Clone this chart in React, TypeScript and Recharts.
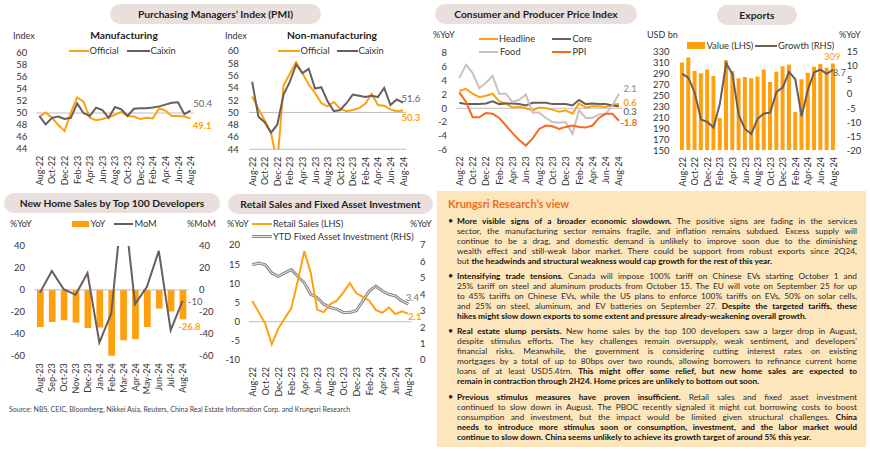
import React from 'react';
import { ComposedChart, Line, Bar, XAxis, YAxis, ReferenceLine, LabelList } from 'recharts';

// ---------------- DATA ----------------
const MONTHS = ['Aug-22','Sep-22','Oct-22','Nov-22','Dec-22','Jan-23','Feb-23','Mar-23','Apr-23','May-23','Jun-23','Jul-23','Aug-23','Sep-23','Oct-23','Nov-23','Dec-23','Jan-24','Feb-24','Mar-24','Apr-24','May-24','Jun-24','Jul-24','Aug-24'];
const MONTHS_HOME = ['Aug-23','Sep-23','Oct-23','Nov-23','Dec-23','Jan-24','Feb-24','Mar-24','Apr-24','May-24','Jun-24','Jul-24','Aug-24'];
const EVEN_TICKS = [0,2,4,6,8,10,12,14,16,18,20,22,24];

const PMI_MFG_OFFICIAL = [49.4,50.1,49.2,48.0,47.0,50.1,52.6,51.9,49.2,48.8,49.0,49.3,49.7,50.2,49.5,49.4,49.0,49.2,49.1,50.8,50.4,49.5,49.5,49.4,49.1];
const PMI_MFG_CAIXIN = [49.5,48.1,49.2,49.4,49.0,49.2,51.6,50.0,49.5,50.9,50.5,49.2,51.0,50.6,49.5,50.7,50.8,50.8,50.9,51.1,51.4,51.7,51.8,49.8,50.4];
const PMI_NON_OFFICIAL = [52.6,50.6,48.7,46.7,41.6,54.4,56.3,58.2,56.4,54.5,53.2,51.5,51.0,51.7,50.6,50.2,50.4,50.7,51.4,53.0,51.2,51.1,50.5,50.2,50.3];
const PMI_NON_CAIXIN = [55.0,49.3,48.4,46.7,48.0,52.9,55.0,57.8,56.4,57.1,53.9,54.1,51.8,50.2,50.4,51.5,52.9,52.7,52.5,52.7,52.5,54.0,51.2,52.1,51.6];
const PMI_TICKS = [44,46,48,50,52,54,56,58,60];

const CPI_HEADLINE = [2.5,2.8,2.1,1.6,1.8,2.1,1.0,0.7,0.1,0.2,0.0,-0.3,0.1,0.0,-0.2,-0.5,-0.3,-0.8,0.7,0.1,0.3,0.3,0.2,0.5,0.6];
const CPI_CORE = [0.8,0.6,0.6,0.6,0.7,1.0,0.6,0.7,0.7,0.6,0.4,0.8,0.8,0.8,0.6,0.6,0.6,0.4,1.2,0.6,0.7,0.6,0.6,0.4,0.3];
const CPI_FOOD = [4.4,6.3,5.1,2.9,3.7,4.7,2.1,2.1,0.9,1.2,2.0,-0.6,-0.6,-1.4,-2.0,-2.1,-2.0,-3.7,-0.3,-1.4,-1.4,-0.9,-0.8,0.4,2.1];
const PPI = [2.3,0.9,-1.3,-1.3,-0.7,-0.8,-1.4,-2.5,-3.6,-4.6,-5.4,-4.4,-3.0,-2.5,-2.6,-3.0,-2.7,-2.5,-2.7,-2.8,-2.5,-1.4,-0.8,-0.8,-1.8];
const CPI_TICKS = [-6,-4,-2,0,2,4,6,8];

const EXPORT_VALUE = [311,320,295,291,298,286,209,315,295,282,284,282,285,298,275,294,304,307,220,280,292,303,308,301,309];
const EXPORT_GROWTH = [7.3,5.8,0.5,-9.0,-9.9,-11.9,-3.4,11.0,7.1,-7.5,-12.4,-14.2,-8.8,-6.9,-6.6,0.8,2.3,7.9,5.3,-7.9,1.6,7.8,8.7,7.2,8.7];
const EXPORT_LTICKS = [150,170,190,210,230,250,270,290,310,330];
const EXPORT_RTICKS = [-20,-15,-10,-5,0,5,10,15];

const HOME_YOY = [-33.9,-29.2,-27.6,-29.8,-34.8,-34.2,-60.2,-45.9,-44.7,-33.8,-16.9,-19.8,-26.8];
const HOME_MOM = [-2.5,17.3,0.6,-4.5,15.3,-48.0,-21.5,86.0,-13.0,2.7,35.6,-36.8,-10.0];
const HOME_TICKS = [-60,-40,-20,0,20,40];

const RETAIL_SALES = [5.4,2.5,-0.5,-5.9,-1.8,0.9,3.5,10.6,18.4,12.7,3.1,2.5,4.6,5.5,7.6,10.1,7.4,6.5,5.5,3.1,2.3,3.7,2.0,2.7,2.1];
const FAI_YTD = [5.8,5.9,5.8,5.3,5.1,5.3,5.5,5.1,4.7,4.0,3.8,3.4,3.2,3.1,2.9,2.9,3.0,3.6,4.2,4.5,4.2,4.0,3.9,3.6,3.4];
const RETAIL_LTICKS = [-10,-5,0,5,10,15,20];
const RETAIL_RTICKS = [0,1,2,3,4,5,6,7];

type Seg = [string, boolean];
const PARA_1: Seg[][] = [
  [['More visible signs of a broader economic slowdown.', true], [' The positive signs are fading in the services', false]],
  [['sector, the manufacturing sector remains fragile, and inflation remains subdued. Excess supply will', false]],
  [['continue to be a drag, and domestic demand is unlikely to improve soon due to the diminishing', false]],
  [['wealth effect and still-weak labor market. There could be support from robust exports since 2Q24,', false]],
  [['but ', false], ['the headwinds and structural weakness would cap growth for the rest of this year.', true]],
];
const PARA_2: Seg[][] = [
  [['Intensifying trade tensions.', true], [' Canada will impose 100% tariff on Chinese EVs starting October 1 and', false]],
  [['25% tariff on steel and aluminum products from October 15. The EU will vote on September 25 for up', false]],
  [['to 45% tariffs on Chinese EVs, while the US plans to enforce 100% tariffs on EVs, 50% on solar cells,', false]],
  [['and 25% on steel, aluminum, and EV batteries on September 27. ', false], ['Despite the targeted tariffs, these', true]],
  [['hikes might slow down exports to some extent and pressure already-weakening overall growth.', true]],
];
const PARA_3: Seg[][] = [
  [['Real estate slump persists.', true], [' New home sales by the top 100 developers saw a larger drop in August,', false]],
  [['despite stimulus efforts. The key challenges remain oversupply, weak sentiment, and developers\u2019', false]],
  [['financial risks. Meanwhile, the government is considering cutting interest rates on existing', false]],
  [['mortgages by a total of up to 80bps over two rounds, allowing borrowers to refinance current home', false]],
  [['loans of at least USD5.4trn. ', false], ['This might offer some relief, but new home sales are expected to', true]],
  [['remain in contraction through 2H24. Home prices are unlikely to bottom out soon.', true]],
];
const PARA_4: Seg[][] = [
  [['Previous stimulus measures have proven insufficient.', true], [' Retail sales and fixed asset investment', false]],
  [['continued to slow down in August. The PBOC recently signaled it might cut borrowing costs to boost', false]],
  [['consumption and investment, but the impact would be limited given structural challenges. ', false], ['China', true]],
  [['needs to introduce more stimulus soon or consumption, investment, and the labor market would', true]],
  [['continue to slow down. China seems unlikely to achieve its growth target of around 5% this year.', true]],
];
const PARAS = [PARA_1, PARA_2, PARA_3, PARA_4];
const PARA_TOPS = [215.7, 271, 326, 391.7];

// ---------------- STYLE ----------------
const FONT = 'Lato, "Open Sans", sans-serif';
const ORANGE = '#FFA10F';
const DARK = '#695D5D';
const LIGHT = '#CBBFBF';
const RED = '#F8691C';
const TXT = '#333333';
const GRID = '#BDBDBD';
const PILL = '#E9E0DE';

function frame(pl: number, pt: number, pr: number, pb: number, wl: number, wr: number, mt: number, mr: number, xh: number) {
  return {
    left: pl - wl,
    top: pt - mt,
    width: pr - pl + wl + wr + mr,
    height: pb - pt + mt + xh,
    margin: { top: mt, right: mr, bottom: 0, left: 0 },
  };
}

function RotTick(props: any) {
  const { x, y, payload, labels } = props;
  const v = payload ? payload.value : '';
  const label = labels ? labels[v] : v;
  return (
    <text x={x} y={y} transform={`rotate(-90 ${x} ${y})`} textAnchor="end" dominantBaseline="central" fontSize={9} fill={TXT}>
      {label}
    </text>
  );
}

function endLabel(n: number, color: string, bold: boolean, dx: number, dy: number) {
  return (p: any) => {
    if (p.index !== n - 1) return null;
    const vb = p.viewBox || {};
    const x = (vb.x ?? p.x) as number;
    const y = (vb.y ?? p.y) as number;
    return (
      <text x={x + dx} y={y + dy} fill={color} fontSize={9.5} fontWeight={bold ? 700 : 400} textAnchor="start" dominantBaseline="central">
        {p.value}
      </text>
    );
  };
}

function barEndLabel(n: number, color: string, bold: boolean, dx: number, dy: number, where: 'top' | 'bottom', anchor: 'start' | 'middle') {
  return (p: any) => {
    if (p.index !== n - 1) return null;
    const vb = p.viewBox || p;
    const x = vb.x as number, y = vb.y as number, w = vb.width as number, h = vb.height as number;
    const top = Math.min(y, y + h);
    const bot = Math.max(y, y + h);
    return (
      <text x={x + w / 2 + dx} y={(where === 'top' ? top : bot) + dy} fill={color} fontSize={9.5} fontWeight={bold ? 700 : 400} textAnchor={anchor} dominantBaseline="central">
        {p.value}
      </text>
    );
  };
}

function Txt({ x, y, size = 9, color = TXT, bold = false, anchor = 'start', children }: any) {
  const tx = anchor === 'middle' ? 'translateX(-50%)' : anchor === 'end' ? 'translateX(-100%)' : 'none';
  return (
    <div style={{ position: 'absolute', left: x, top: y - size * 0.65, fontSize: size, lineHeight: `${size * 1.3}px`, color, fontWeight: bold ? 700 : 400, whiteSpace: 'nowrap', transform: tx }}>
      {children}
    </div>
  );
}

function Pill({ x1, x2, y1, y2, text }: any) {
  return (
    <div style={{ position: 'absolute', left: x1, top: y1, width: x2 - x1, height: y2 - y1, borderRadius: 10, background: PILL, display: 'flex', alignItems: 'center', justifyContent: 'center', fontWeight: 700, fontSize: 10.3, color: '#1E1E1E', whiteSpace: 'nowrap' }}>
      {text}
    </div>
  );
}

function LineSwatch({ x1, x2, y, color, h = 2 }: any) {
  return <div style={{ position: 'absolute', left: x1, top: y - h / 2, width: x2 - x1, height: h, background: color }} />;
}

function BoxSwatch({ x1, x2, y, color }: any) {
  return <div style={{ position: 'absolute', left: x1, top: y - 3.4, width: x2 - x1, height: 6.8, background: color }} />;
}

const yTick = { fontSize: 9.5, fill: TXT };

// ---------------- CHARTS ----------------
function PmiChart({ f, official, caixin, gapY, gapX, offLbl, cxLbl, bottomLine }: any) {
  const data = MONTHS.map((m, i) => ({ i, m, off: official[i], cx: caixin[i] }));
  const n = data.length;
  return (
    <div style={{ position: 'absolute', left: f.left, top: f.top }}>
      <ComposedChart width={f.width} height={f.height} data={data} margin={f.margin}>
        <XAxis dataKey="i" type="number" domain={[-0.5, n - 0.5]} ticks={EVEN_TICKS} interval={0} allowDataOverflow axisLine={false} tickLine={false} tickSize={0} tickMargin={gapX} height={f.xh} tick={<RotTick labels={MONTHS} />} />
        <YAxis type="number" domain={[44, 60]} ticks={PMI_TICKS} interval={0} allowDataOverflow axisLine={false} tickLine={false} tickSize={0} tickMargin={gapY} width={f.wl} tick={yTick} />
        <ReferenceLine y={50} stroke={GRID} strokeWidth={1} />
        {bottomLine ? <ReferenceLine y={44} stroke={GRID} strokeWidth={1} /> : null}
        <Line dataKey="off" stroke={ORANGE} strokeWidth={2} dot={false} isAnimationActive={false} label={endLabel(n, ORANGE, true, offLbl[0], offLbl[1])} />
        <Line dataKey="cx" stroke={DARK} strokeWidth={2} dot={false} isAnimationActive={false} label={endLabel(n, DARK, false, cxLbl[0], cxLbl[1])} />
      </ComposedChart>
    </div>
  );
}

function CpiChart() {
  const f: any = { ...frame(455.7, 53.3, 622, 150, 24, 0, 10, 18, 45), wl: 24, xh: 45 };
  const data = MONTHS.map((m, i) => ({ i, m, h: CPI_HEADLINE[i], c: CPI_CORE[i], fd: CPI_FOOD[i], p: PPI[i] }));
  const n = data.length;
  return (
    <div style={{ position: 'absolute', left: f.left, top: f.top }}>
      <ComposedChart width={f.width} height={f.height} data={data} margin={f.margin}>
        <XAxis dataKey="i" type="number" domain={[-0.5, n - 0.5]} ticks={EVEN_TICKS} interval={0} allowDataOverflow axisLine={false} tickLine={false} tickSize={0} tickMargin={6.7} height={f.xh} tick={<RotTick labels={MONTHS} />} />
        <YAxis type="number" domain={[-6, 8]} ticks={CPI_TICKS} interval={0} allowDataOverflow axisLine={false} tickLine={false} tickSize={0} tickMargin={9} width={f.wl} tick={yTick} />
        <ReferenceLine y={0} stroke={GRID} strokeWidth={1} />
        <Line dataKey="h" stroke={ORANGE} strokeWidth={2} dot={false} isAnimationActive={false} label={endLabel(n, ORANGE, true, 4.5, -2)} />
        <Line dataKey="c" stroke={DARK} strokeWidth={2} dot={false} isAnimationActive={false} label={endLabel(n, '#555050', false, 4.5, 5.2)} />
        <Line dataKey="fd" stroke={LIGHT} strokeWidth={2} dot={false} isAnimationActive={false} label={endLabel(n, '#8F8585', false, 4.5, -5)} />
        <Line dataKey="p" stroke={RED} strokeWidth={2} dot={false} isAnimationActive={false} label={endLabel(n, RED, true, 1.5, 1.8)} />
      </ComposedChart>
    </div>
  );
}

function ExportsChart() {
  const f: any = { ...frame(678.6, 51.7, 835.8, 150, 30, 30, 10, 2, 45), wl: 30, wr: 30, xh: 45 };
  const data = MONTHS.map((m, i) => ({ m, v: EXPORT_VALUE[i], g: EXPORT_GROWTH[i] }));
  const n = data.length;
  return (
    <div style={{ position: 'absolute', left: f.left, top: f.top }}>
      <ComposedChart width={f.width} height={f.height} data={data} margin={f.margin}>
        <XAxis dataKey="m" interval={1} axisLine={false} tickLine={false} tickSize={0} tickMargin={6.7} height={f.xh} tick={<RotTick />} />
        <YAxis yAxisId="l" type="number" domain={[150, 330]} ticks={EXPORT_LTICKS} interval={0} allowDataOverflow axisLine={false} tickLine={false} tickSize={0} tickMargin={9.6} width={f.wl} tick={yTick} />
        <YAxis yAxisId="r" orientation="right" type="number" domain={[-20, 15]} ticks={EXPORT_RTICKS} interval={0} allowDataOverflow axisLine={false} tickLine={false} tickSize={0} tickMargin={10.5} width={f.wr} tick={yTick} />
        <Bar yAxisId="l" dataKey="v" fill={ORANGE} barSize={4} isAnimationActive={false}>
          <LabelList dataKey="v" content={barEndLabel(n, ORANGE, false, -0.7, -6.5, 'top', 'middle')} />
        </Bar>
        <Line yAxisId="r" dataKey="g" stroke={DARK} strokeWidth={2} dot={false} isAnimationActive={false} label={endLabel(n, DARK, false, -0.3, 2.6)} />
      </ComposedChart>
    </div>
  );
}

function HomeChart() {
  const f: any = { ...frame(34.1, 246, 188.6, 355.7, 30, 30, 10, 2, 50), wl: 30, wr: 30, xh: 50 };
  const data = MONTHS_HOME.map((m, i) => ({ m, y: HOME_YOY[i], mm: HOME_MOM[i] }));
  const n = data.length;
  return (
    <div style={{ position: 'absolute', left: f.left, top: f.top }}>
      <ComposedChart width={f.width} height={f.height} data={data} margin={f.margin}>
        <XAxis dataKey="m" interval={0} axisLine={false} tickLine={false} tickSize={0} tickMargin={7.6} height={f.xh} tick={<RotTick />} />
        <YAxis yAxisId="l" type="number" domain={[-60, 40]} ticks={HOME_TICKS} interval={0} allowDataOverflow axisLine={false} tickLine={false} tickSize={0} tickMargin={9} width={f.wl} tick={yTick} />
        <YAxis yAxisId="r" orientation="right" type="number" domain={[-60, 40]} ticks={HOME_TICKS} interval={0} allowDataOverflow axisLine={false} tickLine={false} tickSize={0} tickMargin={10.4} width={f.wr} tick={yTick} />
        <ReferenceLine yAxisId="l" y={0} stroke={GRID} strokeWidth={1} />
        <Bar yAxisId="l" dataKey="y" fill={ORANGE} barSize={6.7} isAnimationActive={false}>
          <LabelList dataKey="y" content={barEndLabel(n, ORANGE, true, -4.7, 7.3, 'bottom', 'start')} />
        </Bar>
        <Line yAxisId="r" dataKey="mm" stroke={DARK} strokeWidth={2} dot={false} isAnimationActive={false} label={endLabel(n, DARK, false, 5.3, 1)} />
      </ComposedChart>
    </div>
  );
}

function RetailChart() {
  const f: any = { ...frame(249, 244.5, 411.6, 359.6, 28, 20, 10, 2, 50), wl: 28, wr: 20, xh: 50 };
  const data = MONTHS.map((m, i) => ({ i, m, rs: RETAIL_SALES[i], fa: FAI_YTD[i] }));
  const n = data.length;
  return (
    <div style={{ position: 'absolute', left: f.left, top: f.top }}>
      <ComposedChart width={f.width} height={f.height} data={data} margin={f.margin}>
        <XAxis dataKey="i" type="number" domain={[-0.5, n - 0.5]} ticks={EVEN_TICKS} interval={0} allowDataOverflow axisLine={false} tickLine={false} tickSize={0} tickMargin={7} height={f.xh} tick={<RotTick labels={MONTHS} />} />
        <YAxis yAxisId="l" type="number" domain={[-10, 20]} ticks={RETAIL_LTICKS} interval={0} allowDataOverflow axisLine={false} tickLine={false} tickSize={0} tickMargin={9} width={f.wl} tick={yTick} />
        <YAxis yAxisId="r" orientation="right" type="number" domain={[0, 7]} ticks={RETAIL_RTICKS} interval={0} allowDataOverflow axisLine={false} tickLine={false} tickSize={0} tickMargin={8.4} width={f.wr} tick={yTick} />
        <ReferenceLine yAxisId="l" y={0} stroke={GRID} strokeWidth={1} />
        <Line yAxisId="r" dataKey="fa" stroke="#8E8585" strokeWidth={3} dot={false} isAnimationActive={false} label={endLabel(n, '#7A7070', false, -2.5, -6.5)} />
        <Line yAxisId="r" dataKey="fa" stroke="#ECE7E7" strokeWidth={1} dot={false} isAnimationActive={false} />
        <Line yAxisId="l" dataKey="rs" stroke={ORANGE} strokeWidth={2} dot={false} isAnimationActive={false} label={endLabel(n, ORANGE, true, 0, 3)} />
      </ComposedChart>
    </div>
  );
}

function TextBox() {
  return (
    <>
      <div style={{ position: 'absolute', left: 437, top: 191, width: 429, height: 256, background: '#FDE5BC' }} />
      <Txt x={448} y={204} size={11} bold color="#F26B1F">Krungsri Research’s view</Txt>
      {PARAS.map((para, pi) => (
        <div key={pi} style={{ position: 'absolute', left: 457, top: PARA_TOPS[pi], width: 400 }}>
          <div style={{ position: 'absolute', left: -9, top: 0, width: 4, height: 10, lineHeight: '10px', fontSize: 9, color: '#222' }}>•</div>
          {para.map((line, li) => {
            const last = li === para.length - 1;
            return (
              <div key={li} style={{ height: 10, lineHeight: '10px', fontSize: 8.3, whiteSpace: 'nowrap', textAlign: last ? 'left' : 'justify', textAlignLast: last ? 'left' : 'justify', color: '#2A2A2A' } as any}>
                {line.map((s, si) => (
                  <span key={si} style={{ fontWeight: s[1] ? 700 : 400, color: s[1] ? '#111' : '#2A2A2A' }}>{s[0]}</span>
                ))}
              </div>
            );
          })}
        </div>
      ))}
    </>
  );
}

export default function App() {
  const f1: any = { ...frame(36.2, 53.3, 193.8, 149.3, 36.2, 0, 10, 26, 45), wl: 36.2, xh: 45 };
  const f2: any = { ...frame(249.2, 51, 406.4, 149.3, 24, 0, 10, 20, 45), wl: 24, xh: 45 };
  return (
    <div style={{ position: 'absolute', left: 0, top: 0, width: 870, height: 451, background: '#FFFFFF', overflow: 'hidden', fontFamily: FONT, color: TXT }}>
      {/* Pills */}
      <Pill x1={110} x2={321} y1={4} y2={24} text="Purchasing Managers’ Index (PMI)" />
      <Pill x1={435} x2={637} y1={4} y2={24} text="Consumer and Producer Price Index" />
      <Pill x1={717} x2={797} y1={5} y2={25} text="Exports" />
      <Pill x1={4} x2={220} y1={193} y2={213} text="New Home Sales by Top 100 Developers" />
      <Pill x1={228} x2={433} y1={194} y2={214} text="Retail Sales and Fixed Asset Investment" />

      {/* PMI manufacturing */}
      <Txt x={13} y={35.5}>Index</Txt>
      <Txt x={124} y={36} size={10.3} bold color="#1E1E1E" anchor="middle">Manufacturing</Txt>
      <LineSwatch x1={69} x2={89} y={51} color={ORANGE} />
      <Txt x={89.5} y={51} size={9.3}>Official</Txt>
      <LineSwatch x1={127} x2={150} y={51} color={DARK} />
      <Txt x={150.5} y={51} size={9.3}>Caixin</Txt>
      <PmiChart f={f1} official={PMI_MFG_OFFICIAL} caixin={PMI_MFG_CAIXIN} gapY={9} gapX={6.7} offLbl={[2, 7.5]} cxLbl={[2.5, -7]} bottomLine={false} />

      {/* PMI non-manufacturing */}
      <Txt x={225} y={36}>Index</Txt>
      <Txt x={332} y={36} size={10.3} bold color="#1E1E1E" anchor="middle">Non-manufacturing</Txt>
      <LineSwatch x1={278} x2={300} y={51} color={ORANGE} />
      <Txt x={300.5} y={51} size={9.3}>Official</Txt>
      <LineSwatch x1={337} x2={358} y={51} color={DARK} />
      <Txt x={358.5} y={51} size={9.3}>Caixin</Txt>
      <PmiChart f={f2} official={PMI_NON_OFFICIAL} caixin={PMI_NON_CAIXIN} gapY={10.2} gapX={7.4} offLbl={[-1.5, 6.5]} cxLbl={[-1.5, -4.6]} bottomLine={true} />

      {/* CPI */}
      <Txt x={433} y={35}>%YoY</Txt>
      <LineSwatch x1={479} x2={498} y={39} color={ORANGE} />
      <Txt x={499} y={39} size={9.3}>Headline</Txt>
      <LineSwatch x1={552} x2={571} y={39} color={DARK} />
      <Txt x={572.5} y={39} size={9.3}>Core</Txt>
      <LineSwatch x1={479} x2={498} y={52} color={LIGHT} />
      <Txt x={500} y={52} size={9.3}>Food</Txt>
      <LineSwatch x1={552} x2={571} y={52} color={RED} />
      <Txt x={572.5} y={52} size={9.3}>PPI</Txt>
      <CpiChart />

      {/* Exports */}
      <Txt x={647} y={35}>USD bn</Txt>
      <Txt x={839} y={35}>%YoY</Txt>
      <BoxSwatch x1={687} x2={705} y={45.7} color={ORANGE} />
      <Txt x={706.5} y={45.7} size={9.3}>Value (LHS)</Txt>
      <LineSwatch x1={755} x2={777} y={45.7} color={DARK} />
      <Txt x={778} y={45.7} size={9.3}>Growth (RHS)</Txt>
      <ExportsChart />

      {/* New home sales */}
      <Txt x={10} y={224}>%YoY</Txt>
      <Txt x={187} y={224}>%MoM</Txt>
      <BoxSwatch x1={72} x2={89} y={224} color={ORANGE} />
      <Txt x={90.5} y={224} size={9.3}>YoY</Txt>
      <LineSwatch x1={114} x2={133} y={224} color={DARK} />
      <Txt x={134.5} y={224} size={9.3}>MoM</Txt>
      <HomeChart />

      {/* Retail sales & FAI */}
      <Txt x={227} y={224}>%YoY</Txt>
      <Txt x={410} y={224}>%YoY</Txt>
      <LineSwatch x1={252} x2={272} y={224} color={ORANGE} />
      <Txt x={273} y={224} size={9.3}>Retail Sales (LHS)</Txt>
      <LineSwatch x1={252} x2={272} y={236.7} color="#8E8585" h={3} />
      <LineSwatch x1={252} x2={272} y={236.7} color="#ECE7E7" h={1} />
      <Txt x={273} y={236.7} size={9.3}>YTD Fixed Asset Investment (RHS)</Txt>
      <RetailChart />

      {/* Source */}
      <Txt x={9} y={410} size={7} color="#444">Source: NBS, CEIC, Bloomberg, Nikkei Asia,  Reuters, China Real Estate Information Corp. and Krungsri Research</Txt>

      <TextBox />
    </div>
  );
}
